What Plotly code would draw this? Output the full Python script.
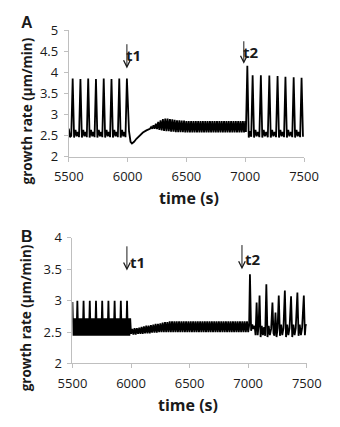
import plotly.graph_objects as go

# ---------------- Panel A data ----------------
a_time_pre = [5500, 5510, 5521, 5533, 5545, 5557, 5567, 5577, 5587, 5599, 5611, 5623, 5633, 5643, 5653,
              5665, 5677, 5689, 5699, 5709, 5719, 5731, 5743, 5755, 5765, 5775, 5785, 5797, 5809, 5821,
              5831, 5841, 5851, 5863, 5875, 5887, 5897, 5907, 5917, 5929, 5941, 5953, 5963, 5973, 5982, 5994]
a_rate_pre = [2.66, 2.46, 2.49, 3.85, 2.45, 2.63, 2.48, 2.58, 2.46, 3.84, 2.45, 2.63, 2.48, 2.58, 2.46,
              3.85, 2.45, 2.63, 2.48, 2.58, 2.46, 3.84, 2.45, 2.63, 2.48, 2.58, 2.46, 3.85, 2.45, 2.63,
              2.48, 2.58, 2.46, 3.84, 2.45, 2.63, 2.48, 2.58, 2.46, 3.85, 2.45, 2.63, 2.48, 2.58, 2.46, 3.85]
a_time_drop = [6012, 6025, 6037, 6055, 6075, 6100, 6130, 6160, 6190]
a_rate_drop = [2.60, 2.35, 2.31, 2.35, 2.42, 2.50, 2.57, 2.62, 2.66]
a_time_band = [6200, 6210, 6220, 6230, 6240, 6250, 6260, 6270, 6280, 6290, 6300, 6310, 6320, 6330, 6340,
               6350, 6360, 6370, 6380, 6390, 6400, 6410, 6420, 6430, 6440, 6450, 6460, 6470, 6480, 6490,
               6500, 6510, 6520, 6530, 6540, 6550, 6560, 6570, 6580, 6590, 6600, 6610, 6620, 6630, 6640,
               6650, 6660, 6670, 6680, 6690, 6700, 6710, 6720, 6730, 6740, 6750, 6760, 6770, 6780, 6790,
               6800, 6810, 6820, 6830, 6840, 6850, 6860, 6870, 6880, 6890, 6900, 6910, 6920, 6930, 6940,
               6950, 6960, 6970, 6980, 6990, 7000]
a_rate_band = [2.70, 2.66, 2.74, 2.66, 2.78, 2.65, 2.82, 2.63, 2.86, 2.62, 2.89, 2.61, 2.90, 2.60, 2.90,
               2.60, 2.89, 2.59, 2.88, 2.59, 2.87, 2.58, 2.86, 2.58, 2.86, 2.58, 2.85, 2.58, 2.85, 2.57,
               2.84, 2.57, 2.84, 2.57, 2.84, 2.57, 2.84, 2.57, 2.84, 2.57, 2.84, 2.57, 2.84, 2.57, 2.84,
               2.57, 2.84, 2.57, 2.84, 2.57, 2.84, 2.57, 2.84, 2.57, 2.84, 2.57, 2.84, 2.57, 2.84, 2.57,
               2.84, 2.57, 2.84, 2.57, 2.84, 2.57, 2.84, 2.57, 2.84, 2.57, 2.84, 2.57, 2.84, 2.57, 2.84,
               2.57, 2.84, 2.57, 2.84, 2.57, 2.84]
a_time_post = [7006, 7018, 7030, 7040, 7051, 7063, 7075, 7087, 7097, 7108, 7120, 7133, 7145, 7157, 7167,
               7178, 7192, 7205, 7217, 7229, 7239, 7250, 7262, 7275, 7287, 7299, 7309, 7319, 7330, 7342,
               7354, 7366, 7376, 7388, 7400, 7412, 7424, 7436, 7446, 7456, 7467, 7479, 7491]
a_rate_post = [2.58, 4.15, 2.45, 2.60, 2.47, 3.93, 2.45, 2.63, 2.48, 2.58, 2.46, 3.93, 2.45, 2.63, 2.48,
               2.58, 2.46, 3.92, 2.45, 2.63, 2.48, 2.58, 2.46, 3.91, 2.45, 2.63, 2.48, 2.58, 2.46, 3.89,
               2.45, 2.63, 2.48, 2.58, 2.46, 3.88, 2.45, 2.63, 2.48, 2.58, 2.46, 3.87, 2.47]

# ---------------- Panel B data ----------------
b_time_pre = [5500, 5507, 5514, 5521, 5528, 5535, 5542,
              5549, 5555, 5562, 5569, 5575, 5582, 5588, 5595,
              5602, 5608, 5615, 5622, 5628, 5635, 5641, 5648,
              5655, 5661, 5668, 5675, 5681, 5688, 5694, 5701,
              5708, 5714, 5721, 5728, 5734, 5741, 5747, 5754,
              5761, 5767, 5774, 5781, 5787, 5794, 5800, 5807,
              5814, 5820, 5827, 5834, 5840, 5847, 5853, 5860,
              5867, 5873, 5880, 5887, 5893, 5900, 5906, 5913,
              5920, 5926, 5933, 5940, 5946, 5953, 5959, 5966,
              5973, 5979, 5986, 5993]
b_rate_pre = [2.98, 2.44, 2.72, 2.44, 2.72, 2.44, 3.00,
              2.44, 2.72, 2.44, 2.72, 2.44, 2.72, 2.44, 3.00,
              2.44, 2.72, 2.44, 2.72, 2.44, 2.72, 2.44, 3.00,
              2.44, 2.72, 2.44, 2.72, 2.44, 2.72, 2.44, 3.00,
              2.44, 2.72, 2.44, 2.72, 2.44, 2.72, 2.44, 3.00,
              2.44, 2.72, 2.44, 2.72, 2.44, 2.72, 2.44, 3.00,
              2.44, 2.72, 2.44, 2.72, 2.44, 2.72, 2.44, 3.00,
              2.44, 2.72, 2.44, 2.72, 2.44, 2.72, 2.44, 3.00,
              2.44, 2.72, 2.44, 2.72, 2.44, 2.72, 2.44, 3.00,
              2.44, 2.72, 2.44, 2.72]
b_time_band = [6000, 6010, 6020, 6030, 6040, 6050, 6060, 6070, 6080, 6090, 6100, 6110, 6120, 6130, 6140,
               6150, 6160, 6170, 6180, 6190, 6200, 6210, 6220, 6230, 6240, 6250, 6260, 6270, 6280, 6290,
               6300, 6310, 6320, 6330, 6340, 6350, 6360, 6370, 6380, 6390, 6400, 6410, 6420, 6430, 6440,
               6450, 6460, 6470, 6480, 6490, 6500, 6510, 6520, 6530, 6540, 6550, 6560, 6570, 6580, 6590,
               6600, 6610, 6620, 6630, 6640, 6650, 6660, 6670, 6680, 6690, 6700, 6710, 6720, 6730, 6740,
               6750, 6760, 6770, 6780, 6790, 6800, 6810, 6820, 6830, 6840, 6850, 6860, 6870, 6880, 6890,
               6900, 6910, 6920, 6930, 6940, 6950, 6960, 6970, 6980, 6990, 7000]
b_rate_band = [2.47, 2.55, 2.46, 2.56, 2.46, 2.56, 2.47, 2.57, 2.47, 2.58, 2.47, 2.59, 2.48, 2.60, 2.48,
               2.60, 2.48, 2.61, 2.49, 2.62, 2.49, 2.63, 2.49, 2.63, 2.50, 2.64, 2.50, 2.65, 2.50, 2.66,
               2.50, 2.66, 2.50, 2.67, 2.50, 2.67, 2.50, 2.67, 2.50, 2.67, 2.50, 2.67, 2.50, 2.67, 2.50,
               2.67, 2.50, 2.67, 2.50, 2.67, 2.50, 2.67, 2.50, 2.67, 2.50, 2.67, 2.50, 2.67, 2.50, 2.67,
               2.50, 2.67, 2.50, 2.67, 2.50, 2.67, 2.50, 2.67, 2.50, 2.67, 2.50, 2.67, 2.50, 2.67, 2.50,
               2.67, 2.50, 2.67, 2.50, 2.67, 2.50, 2.67, 2.50, 2.67, 2.50, 2.67, 2.50, 2.67, 2.50, 2.67,
               2.50, 2.67, 2.50, 2.67, 2.50, 2.67, 2.50, 2.67, 2.50, 2.67, 2.50]
b_time_post = [7008, 7015, 7025, 7035, 7045, 7055, 7063, 7072, 7081, 7089, 7097, 7106, 7116, 7126, 7136,
               7145, 7155, 7165, 7175, 7185, 7196, 7207, 7216, 7224, 7233, 7242, 7251, 7261, 7271, 7281,
               7291, 7301, 7313, 7323, 7333, 7343, 7353, 7366, 7376, 7386, 7396, 7406, 7420, 7430, 7440,
               7450, 7460, 7475, 7484, 7492, 7500]
b_rate_post = [2.60, 3.42, 2.52, 2.62, 2.55, 2.60, 2.45, 2.97, 2.45, 2.60, 3.08, 2.42, 2.60, 2.45, 2.58,
               2.44, 3.26, 2.42, 2.60, 2.45, 2.55, 2.97, 2.48, 2.44, 2.81, 2.42, 2.56, 3.08, 2.44, 2.62,
               2.45, 2.56, 3.16, 2.42, 2.62, 2.45, 2.56, 3.07, 2.42, 2.62, 2.45, 2.56, 3.13, 2.44, 2.62,
               2.45, 2.56, 3.08, 2.45, 2.62, 2.60]

x_ticks = [5500, 6000, 6500, 7000, 7500]
x_labels = ["5500", "6000", "6500", "7000", "7500"]
a_yticks = [2, 2.5, 3, 3.5, 4, 4.5, 5]
a_ylabels = ["2", "2.5", "3", "3.5", "4", "4.5", "5"]
b_yticks = [2, 2.5, 3, 3.5, 4]
b_ylabels = ["2", "2.5", "3", "3.5", "4"]

y_title = "growth rate (µm/min)"
x_title = "time (s)"

# marker annotations: (label, time, arrow tip, arrow tail, text x, text y)
a_marks = [("t1", 5994, 4.09, 4.70, 6050, 4.40), ("t2", 6988, 4.20, 4.77, 7050, 4.49)]
b_marks = [("t1", 5965, 3.48, 3.89, 6052, 3.62), ("t2", 6947, 3.50, 3.91, 7045, 3.66)]

a_time = a_time_pre + a_time_drop + a_time_band + a_time_post
a_rate = a_rate_pre + a_rate_drop + a_rate_band + a_rate_post
b_time = b_time_pre + b_time_band + b_time_post
b_rate = b_rate_pre + b_rate_band + b_rate_post

W, H = 340, 427
FONT = "Open Sans"
TXT = "#1a1a1a"
AX = "#bfbfbf"

fig = go.Figure()
fig.add_trace(go.Scatter(x=a_time, y=a_rate, mode="lines", line=dict(color="black", width=1.8),
                         xaxis="x", yaxis="y", hoverinfo="skip"))
fig.add_trace(go.Scatter(x=b_time, y=b_rate, mode="lines", line=dict(color="black", width=1.8),
                         xaxis="x2", yaxis="y2", hoverinfo="skip"))


def xax(domain, anchor):
    return dict(domain=domain, anchor=anchor, range=[5500, 7500], tickvals=x_ticks, ticktext=x_labels,
                showline=True, linecolor=AX, linewidth=1, ticks="outside", ticklen=4, tickcolor=AX,
                showgrid=False, zeroline=False, tickfont=dict(family=FONT, size=13, color=TXT),
                ticklabelstandoff=4, fixedrange=True)


def yax(domain, anchor, rng, tv, tt):
    return dict(domain=domain, anchor=anchor, range=rng, tickvals=tv, ticktext=tt,
                showline=True, linecolor=AX, linewidth=1, ticks="outside", ticklen=4, tickcolor=AX,
                showgrid=False, zeroline=False, tickfont=dict(family=FONT, size=13, color=TXT),
                ticklabelstandoff=3, fixedrange=True)


fig.update_layout(
    width=W, height=H, margin=dict(l=0, r=0, t=0, b=0),
    paper_bgcolor="white", plot_bgcolor="white", showlegend=False,
    xaxis=xax([59 / W, 317 / W], "y"),
    yaxis=yax([1 - 154 / H, 1 - 22 / H], "x", [2, 5], a_yticks, a_ylabels),
    xaxis2=xax([63 / W, 320 / W], "y2"),
    yaxis2=yax([1 - 370 / H, 1 - 239 / H], "x2", [2, 4], b_yticks, b_ylabels),
)

ann = []
bold = dict(family=FONT, size=15, color=TXT, weight="bold")
ybold = dict(family=FONT, size=13.5, color=TXT, weight="bold")
for xr, yr, marks in (("x", "y", a_marks), ("x2", "y2", b_marks)):
    for lab, t, tip, tail, tx, ty in marks:
        ann.append(dict(x=t, y=tip, ax=t, ay=tail, xref=xr, yref=yr, axref=xr, ayref=yr, text="",
                        showarrow=True, arrowhead=5, arrowsize=1.3, arrowwidth=1, arrowcolor=TXT,
                        standoff=0, startstandoff=0))
        ann.append(dict(x=tx, y=ty, xref=xr, yref=yr, text=lab, showarrow=False, font=bold))

# panel letters
for letter, yc in (("A", 14), ("B", 238)):
    ann.append(dict(x=4 / W, y=1 - yc / H, xref="paper", yref="paper", text=letter, showarrow=False,
                    xanchor="left", yanchor="middle",
                    font=dict(family="Liberation Sans", size=16, color=TXT, weight="bold")))
# axis titles
for yc in (106, 322):
    ann.append(dict(x=13 / W, y=1 - yc / H, xref="paper", yref="paper", text=y_title, textangle=-90,
                    showarrow=False, xanchor="center", yanchor="middle", font=ybold))
for xc, yc in ((191, 197), (190, 413)):
    ann.append(dict(x=xc / W, y=1 - yc / H, xref="paper", yref="paper", text=x_title,
                    showarrow=False, xanchor="center", yanchor="middle",
                    font=dict(family=FONT, size=16, color=TXT, weight="bold")))
fig.update_layout(annotations=ann)

fig.write_html("out.html", config={"displayModeBar": False},
               post_script="document.body.style.margin='0';document.body.style.overflow='hidden';")
